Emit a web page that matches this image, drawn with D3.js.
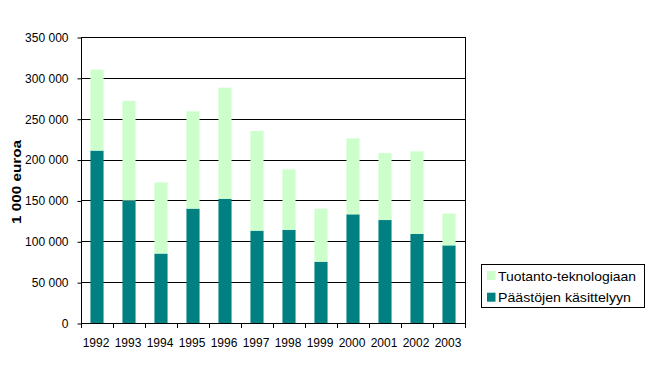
<!DOCTYPE html>
<html><head><meta charset="utf-8">
<script src="https://cdn.jsdelivr.net/npm/d3@7"></script>
<style>body{margin:0;background:#fff;} svg{display:block;font-family:"Liberation Sans",Arial,sans-serif;}</style>
</head><body><svg id="c" width="654" height="379"></svg>
<script>
const years = ["1992","1993","1994","1995","1996","1997","1998","1999","2000","2001","2002","2003"];
const paastojen = [211000,150000,85000,140000,152000,113000,114000,75000,133000,126000,109000,95000];
const tuotanto = [99000,122000,87000,119000,136000,122000,74000,65000,93000,82000,101000,39000];
const yTicks = [0,50000,100000,150000,200000,250000,300000,350000];
const seriesNames = ["Päästöjen käsittelyyn","Tuotanto-teknologiaan"];
const colors = ["#008080","#CCFFCC"];

const svg = d3.select("#c");
const L=81, R=465, T=37, B=323;
const x = d3.scaleBand().domain(years).range([L,R]).paddingInner(0.59).paddingOuter(0.295);
const xb = d3.scaleBand().domain(years).range([L,R]);
const y = d3.scaleLinear().domain([0,350000]).range([B,T]);
const fmt = v => d3.format(",")(v).replace(/,/g," ");

// gridlines
svg.append("g").selectAll("line").data(yTicks.slice(1)).join("line")
  .attr("x1",L).attr("x2",R).attr("y1",d=>Math.round(y(d))+0.5).attr("y2",d=>Math.round(y(d))+0.5)
  .attr("stroke","#000").attr("stroke-width",1);

const data = years.map((yr,i)=>({yr, a:paastojen[i], b:tuotanto[i]}));
const stack = d3.stack().keys(["a","b"])(data);
svg.append("g").selectAll("g").data(stack).join("g").attr("fill",(d,i)=>colors[i])
  .selectAll("rect").data(d=>d).join("rect")
  .attr("x",d=>x(d.data.yr)).attr("width",x.bandwidth())
  .attr("y",d=>y(d[1])).attr("height",d=>y(d[0])-y(d[1]));

// right border
svg.append("line").attr("x1",R+0.5).attr("x2",R+0.5).attr("y1",T).attr("y2",B).attr("stroke","#000");

// y axis
const ya = d3.axisLeft(y).tickValues(yTicks).tickFormat(fmt).tickSize(4).tickPadding(9);
const gy = svg.append("g").attr("transform",`translate(${L+0.5},0.5)`).call(ya);
gy.select(".domain").attr("d",`M0,${T}V${B}`);
gy.selectAll("text").attr("font-size",12).attr("font-family","Liberation Sans, Arial, sans-serif").attr("fill","#000");

// x axis
const xa = d3.axisBottom(xb).tickSize(0).tickPadding(15);
const gx = svg.append("g").attr("transform",`translate(-1,${B+0.5})`).call(xa);
gx.select(".domain").attr("d",`M${L+1},0H${R+2}`);
gx.selectAll("text").attr("font-size",12).attr("font-family","Liberation Sans, Arial, sans-serif").attr("fill","#000");
svg.append("g").selectAll("line").data(d3.range(years.length+1)).join("line")
  .attr("x1",i=>Math.round(L+i*xb.step())+0.5).attr("x2",i=>Math.round(L+i*xb.step())+0.5)
  .attr("y1",B).attr("y2",B+5).attr("stroke","#000");

// y label
svg.append("text").attr("transform","translate(21,182) rotate(-90)").attr("text-anchor","middle")
  .attr("font-size",12.5).attr("font-weight","bold")
  .attr("textLength",84).attr("lengthAdjust","spacingAndGlyphs").text("1 000 euroa");

// legend
const lg = svg.append("g");
lg.append("rect").attr("x",481.5).attr("y",264.5).attr("width",163).attr("height",43)
  .attr("fill","#fff").attr("stroke","#000");
const items = [{n:seriesNames[1],c:colors[1],w:138},{n:seriesNames[0],c:colors[0],w:133}];
items.forEach((it,i)=>{
  const base = 280.5 + i*21.7;
  lg.append("rect").attr("x",487).attr("y",base-9.5).attr("width",8.5).attr("height",9).attr("fill",it.c);
  lg.append("text").attr("x",498).attr("y",base).attr("font-size",13.5)
    .attr("textLength",it.w).attr("lengthAdjust","spacingAndGlyphs").text(it.n);
});
</script></body></html>
